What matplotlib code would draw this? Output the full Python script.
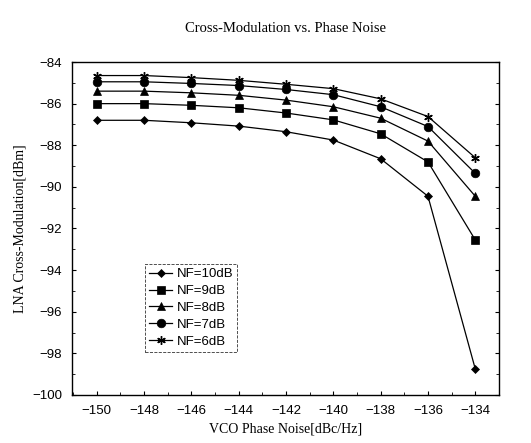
import numpy as np
import matplotlib.pyplot as plt

# phase noise points (dBc/Hz)
phase_noise = [-150, -148, -146, -144, -142, -140, -138, -136, -134]

nf10 = [-86.8, -86.8, -86.92, -87.08, -87.35, -87.75, -88.65, -90.45, -98.75]
nf9 = [-86.0, -86.0, -86.08, -86.2, -86.45, -86.78, -87.45, -88.8, -92.55]
nf8 = [-85.4, -85.4, -85.48, -85.6, -85.83, -86.15, -86.7, -87.8, -90.45]
nf7 = [-84.95, -84.95, -85.03, -85.13, -85.32, -85.57, -86.15, -87.1, -89.35]
nf6 = [-84.65, -84.65, -84.75, -84.88, -85.07, -85.28, -85.77, -86.62, -88.6]

labels = ["NF=10dB", "NF=9dB", "NF=8dB", "NF=7dB", "NF=6dB"]
markers = ["D", "s", "^", "o", (6, 2, 0)]

fig = plt.figure(figsize=(5.31, 4.43), dpi=100)
ax = fig.add_axes([0.1356, 0.1084, 0.804, 0.7516])

for ys, lab, m in zip([nf10, nf9, nf8, nf7, nf6], labels, markers):
    ms = 4.5 if m == "D" else 6.2
    ax.plot(phase_noise, ys, color="black", lw=0.9, marker=m, ms=ms,
            mew=1.0 if m == (6, 2, 0) else 0.5, label=lab)

ax.set_xlim(-151.05, -133.05)
ax.set_ylim(-100, -84)
ax.set_xticks(np.arange(-150, -133, 2))
ax.set_xticks(np.arange(-151, -132, 1), minor=True)
ax.set_yticks(np.arange(-100, -83, 2))
ax.set_yticks(np.arange(-99, -84, 2), minor=True)
ax.tick_params(which="both", direction="in", top=False, right=True,
               labelsize=9.5, pad=7)
ax.tick_params(which="major", length=3)
ax.tick_params(which="minor", length=2)
for t in ax.get_xticklabels() + ax.get_yticklabels():
    t.set_family("Liberation Sans")
ax.set_xticklabels([str(v).replace("-", "\u2212") for v in range(-150, -133, 2)])

fig.text(0.537, 0.936, "Cross-Modulation vs. Phase Noise", family="Liberation Serif",
         fontsize=10.5, ha="center", va="center")
ax.set_xlabel("VCO Phase Noise[dBc/Hz]", family="Liberation Serif", fontsize=10)
ax.set_ylabel("LNA Cross-Modulation[dBm]", family="Liberation Serif", fontsize=10,
              labelpad=4)

leg = ax.legend(loc="lower left", bbox_to_anchor=(0.155, 0.11), frameon=True,
                fancybox=False, edgecolor="black", handlelength=1.8,
                handletextpad=0.3, labelspacing=0.35, borderpad=0.3,
                prop={"family": "Liberation Sans", "size": 9.5})
leg.get_frame().set_linestyle("--")
leg.get_frame().set_linewidth(0.6)

for s in ax.spines.values():
    s.set_linewidth(1.0)

fig.savefig("out.png", dpi=100)
